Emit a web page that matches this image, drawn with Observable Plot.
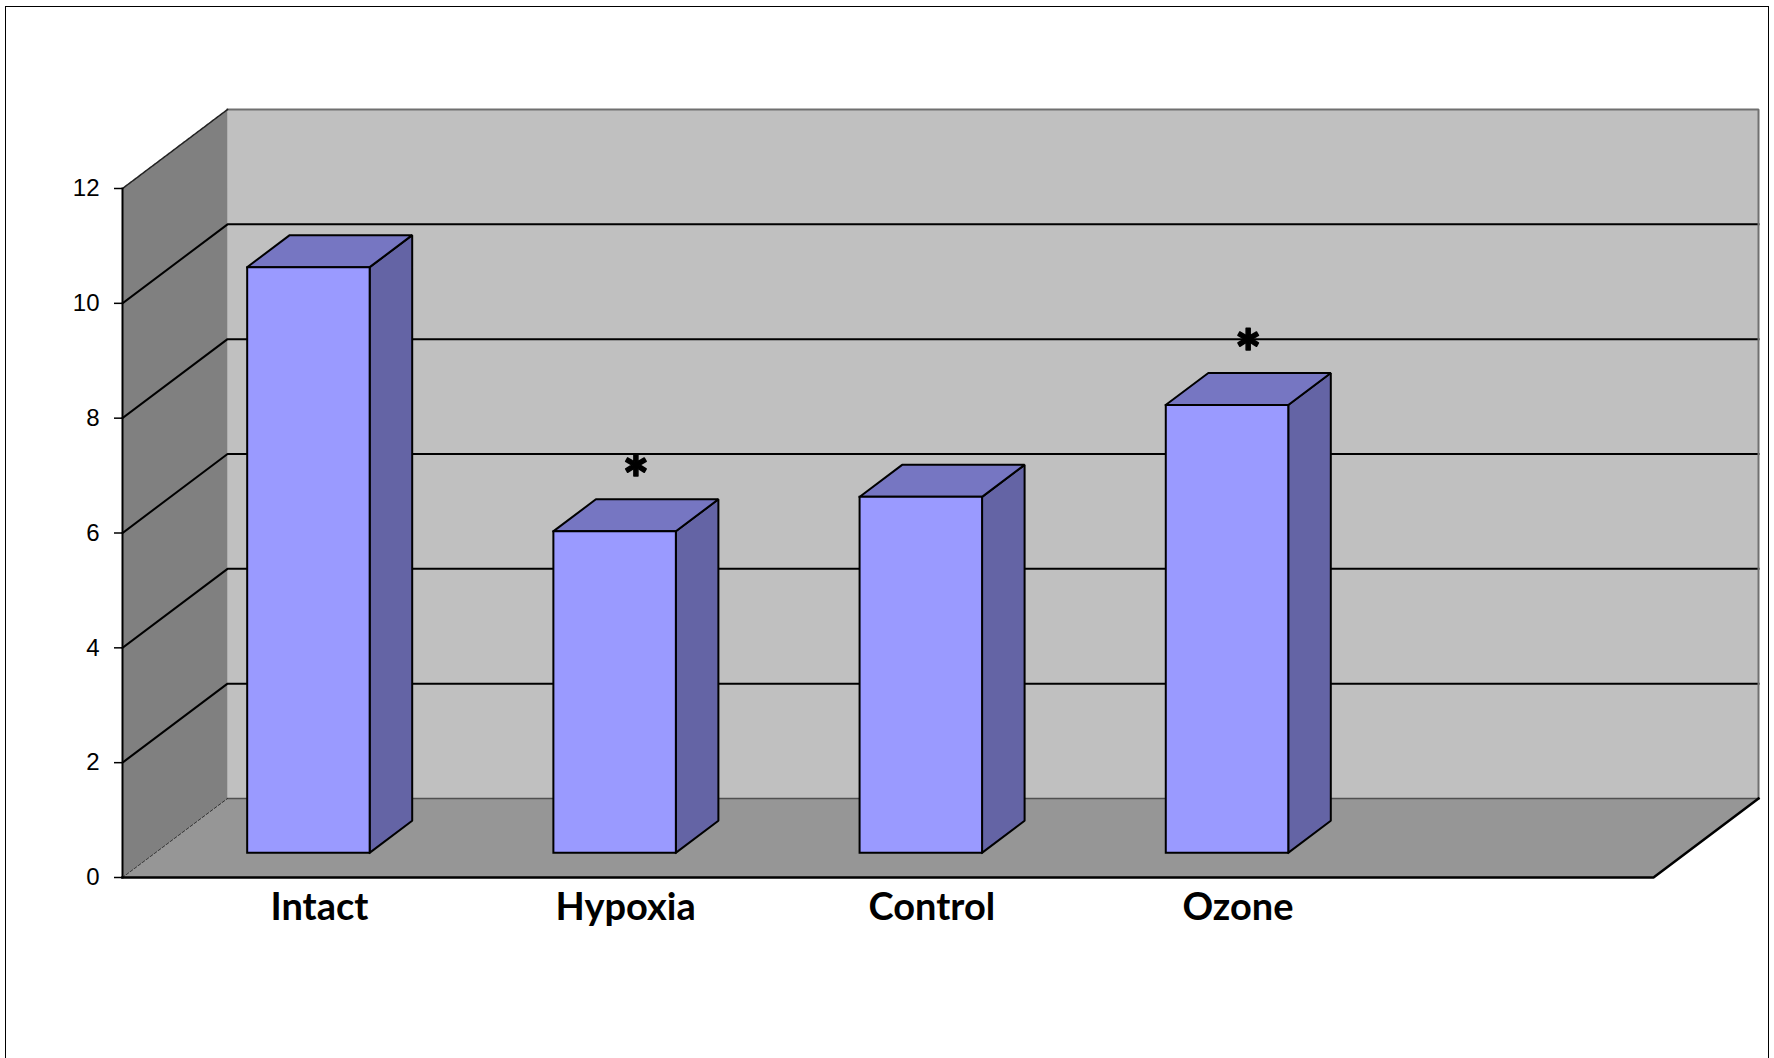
<!DOCTYPE html>
<html>
<head>
<meta charset="utf-8">
<script src="https://cdn.jsdelivr.net/npm/d3@7"></script>
<script src="https://cdn.jsdelivr.net/npm/@observablehq/plot@0.6"></script>
<style>
  html, body { margin: 0; padding: 0; background: #fff; overflow: hidden; }
  #chart { position: relative; width: 1774px; height: 1058px; }
  #chart svg { position: absolute; left: 0; top: 0; }
  #border {
    position: absolute; left: 5px; top: 6px; width: 1762px; height: 1100px;
    border-left: 1.5px solid #000; border-top: 1.5px solid #000; border-right: 1.5px solid #000;
    pointer-events: none;
  }
</style>
</head>
<body>
<div id="chart"><div id="border"></div></div>
<script>
// Group means; an asterisk marks a significant difference
const categories = ["Intact", "Hypoxia", "Control", "Ozone"];
const values = [10.2, 5.6, 6.2, 7.8];
const significant = [false, true, false, true];
const yTicks = [0, 2, 4, 6, 8, 10, 12];
const slots = 5;            // category slots along the floor (the last is empty)
const yMax = 12;

// Oblique 3D projection: offset of the back wall, in data units
const DEPTH_X = 0.343, DEPTH_Y = 1.376;
const BAR_FRONT = 0.3125, BAR_BACK = 0.7175, BAR_HALF = 0.2;

const proj = (x, y, d) => [x + d * DEPTH_X, y + d * DEPTH_Y];
const poly = (id, pts, close = true) =>
  (close ? pts.concat([pts[0]]) : pts).map(([x, y]) => ({id, x, y}));

// Walls and floor
const backWall = poly("back", [proj(0, 0, 1), proj(slots, 0, 1), proj(slots, yMax, 1), proj(0, yMax, 1)]);
const leftWall = poly("left", [proj(0, 0, 0), proj(0, 0, 1), proj(0, yMax, 1), proj(0, yMax, 0)]);
const floor = poly("floor", [proj(0, 0, 0), proj(slots, 0, 0), proj(slots, 0, 1), proj(0, 0, 1)]);

// Gridlines: diagonal across the left wall, then along the back wall
const grid = yTicks.filter(v => v > 0 && v < yMax)
  .flatMap(v => poly("g" + v, [proj(0, v, 0), proj(0, v, 1), proj(slots, v, 1)], false));

// Bars as three visible faces
const rows = categories.map((name, i) => ({name, i, v: values[i], sig: significant[i]}));
const fronts = rows.flatMap(({i, v}) => {
  const a = i + 0.5 - BAR_HALF, b = i + 0.5 + BAR_HALF;
  return poly("f" + i, [proj(a, 0, BAR_FRONT), proj(b, 0, BAR_FRONT), proj(b, v, BAR_FRONT), proj(a, v, BAR_FRONT)]);
});
const tops = rows.flatMap(({i, v}) => {
  const a = i + 0.5 - BAR_HALF, b = i + 0.5 + BAR_HALF;
  return poly("t" + i, [proj(a, v, BAR_FRONT), proj(b, v, BAR_FRONT), proj(b, v, BAR_BACK), proj(a, v, BAR_BACK)]);
});
const sides = rows.flatMap(({i, v}) => {
  const b = i + 0.5 + BAR_HALF;
  return poly("s" + i, [proj(b, 0, BAR_FRONT), proj(b, v, BAR_FRONT), proj(b, v, BAR_BACK), proj(b, 0, BAR_BACK)]);
});

const mid = (BAR_FRONT + BAR_BACK) / 2;
const face = {x: "x", y: "y", z: "id", strokeLinejoin: "miter", strokeLinecap: "square"};

const chart = Plot.plot({
  width: 1774,
  height: 1058,
  marginLeft: 122,
  marginRight: 121,
  marginTop: 188,
  marginBottom: 181,
  x: {type: "linear", domain: [0, slots], axis: null},
  y: {type: "linear", domain: [0, yMax]},
  style: {fontFamily: "'Liberation Sans', Arial, sans-serif", background: "transparent", overflow: "visible", color: "#000"},
  marks: [
    Plot.line(backWall, {...face, fill: "#c0c0c0", stroke: "none"}),
    Plot.line(leftWall, {...face, fill: "#808080", stroke: "none"}),
    Plot.line(floor, {...face, fill: "#969696", stroke: "none"}),
    Plot.line(grid, {...face, stroke: "#000", strokeWidth: 2}),
    // wall edges
    Plot.line(poly("top", [proj(0, yMax, 1), proj(slots, yMax, 1), proj(slots, 0, 1)], false),
      {...face, stroke: "#707070", strokeWidth: 2}),
    Plot.line(poly("backfloor", [proj(0, 0, 1), proj(slots, 0, 1)], false),
      {...face, stroke: "#505050", strokeWidth: 1.5}),
    Plot.line(poly("lefttop", [proj(0, yMax, 0), proj(0, yMax, 1)], false),
      {...face, stroke: "#222", strokeWidth: 1.5, strokeDasharray: "2,1.5"}),
    Plot.line(poly("leftfloor", [proj(0, 0, 0), proj(0, 0, 1)], false),
      {...face, stroke: "#333", strokeWidth: 1, strokeDasharray: "3,2"}),
    // bars
    Plot.line(sides, {...face, fill: "#6464a5", stroke: "#000", strokeWidth: 2}),
    Plot.line(tops, {...face, fill: "#7676c2", stroke: "#000", strokeWidth: 2}),
    Plot.line(fronts, {...face, fill: "#9a9aff", stroke: "#000", strokeWidth: 2}),
    // front axis and floor edge
    Plot.line(poly("axis", [proj(0, yMax, 0), proj(0, 0, 0)], false), {...face, stroke: "#000", strokeWidth: 2}),
    Plot.line(poly("front", [proj(0, 0, 0), proj(slots, 0, 0), proj(slots, 0, 1)], false),
      {...face, stroke: "#000", strokeWidth: 2.5}),
    Plot.axisY({ticks: yTicks, tickSize: 8, tickPadding: 15, fontSize: 24, strokeWidth: 1.5, label: null}),
    // significance markers above the bar tops
    Plot.text(rows.filter(d => d.sig), {
      x: d => d.i + 0.5 + mid * DEPTH_X,
      y: d => d.v + mid * DEPTH_Y,
      text: () => "*",
      dy: -33,
      fontSize: 62,
      fontWeight: 900,
      fontFamily: "Lato, 'Open Sans', sans-serif",
      fill: "#000",
      stroke: "#000",
      strokeWidth: 1.5
    }),
    // category labels
    Plot.text(rows, {
      x: d => d.i + 0.5 + BAR_FRONT * DEPTH_X,
      y: 0,
      text: "name",
      dx: 11,
      dy: 30,
      fontSize: 38,
      fontWeight: "bold",
      fontFamily: "Lato, 'Open Sans', sans-serif",
      fill: "#000"
    })
  ]
});

document.getElementById("chart").prepend(chart);
</script>
</body>
</html>
